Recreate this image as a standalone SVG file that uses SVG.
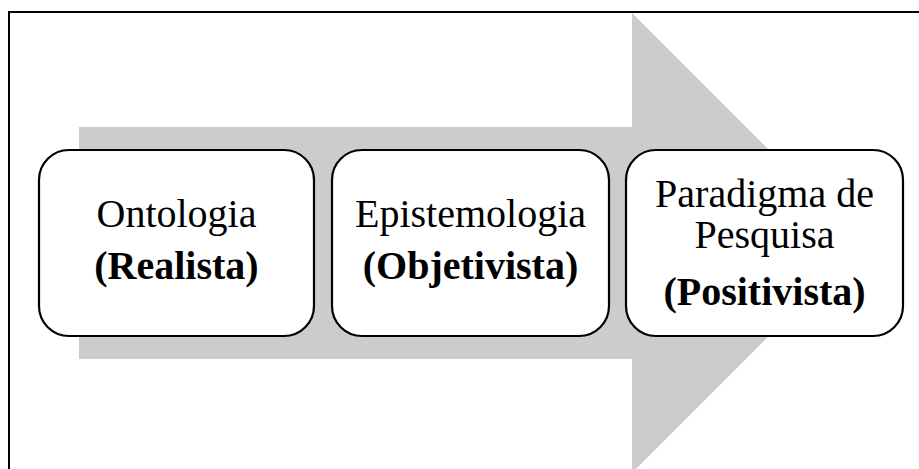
<svg xmlns="http://www.w3.org/2000/svg" width="919" height="469" viewBox="0 0 919 469">
  <style>
    .frame { fill: none; stroke: #000; stroke-width: 2; }
    .flow { fill: #cccccc; stroke: none; }
    .box { fill: #fff; stroke: #000; stroke-width: 2.2; }
    .t { font-family: "Liberation Serif", "Times New Roman", serif; font-size: 40px; fill: #000; text-anchor: middle; }
    .b { font-weight: bold; }
  </style>
  <rect width="919" height="469" fill="#fff"/>
  <!-- outer frame (left and top edges) -->
  <path class="frame" d="M9,470 V12 H920"/>
  <g id="connectors">
    <!-- broad process arrow behind the steps -->
    <polygon class="flow" points="79,127 632,127 632,13 862,243 632,473 632,359 79,359"/>
  </g>
  <g id="ontologia">
    <rect class="box" x="39" y="150" width="275" height="186" rx="30" ry="30"/>
    <text class="t" x="176.5" y="227">Ontologia</text>
    <text class="t b" x="176.5" y="279">(Realista)</text>
  </g>
  <g id="epistemologia">
    <rect class="box" x="332" y="150" width="277" height="186" rx="30" ry="30"/>
    <text class="t" x="470.5" y="227">Epistemologia</text>
    <text class="t b" x="470.5" y="279">(Objetivista)</text>
  </g>
  <g id="paradigma">
    <rect class="box" x="626" y="150" width="277" height="186" rx="30" ry="30"/>
    <text class="t" x="764.5" y="207">Paradigma de</text>
    <text class="t" x="764.5" y="248">Pesquisa</text>
    <text class="t b" x="764.5" y="305">(Positivista)</text>
  </g>
</svg>
